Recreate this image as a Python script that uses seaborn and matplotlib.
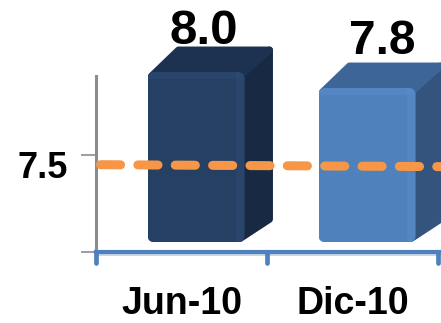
import numpy as np
import matplotlib
matplotlib.use("Agg")
import matplotlib.pyplot as plt
import seaborn as sns
from matplotlib.patches import Polygon, FancyBboxPatch, Rectangle
from matplotlib.transforms import IdentityTransform, ScaledTranslation

categories = ["Jun-10", "Dic-10"]
values = [8.0, 7.8]
reference_line = [7.45, 7.44]
bar_base = 7.05
front_colors = ["#264063", "#4f81bd"]
side_colors = ["#182a43", "#34547e"]
top_colors = ["#1d3250", "#3d6696"]
light_colors = ["#2f4d78", "#5a8ecb"]

sns.set_theme(style="white")
plt.rcParams["font.family"] = ["Liberation Sans", "DejaVu Sans"]
plt.rcParams["lines.scale_dashes"] = False

W, H = 441, 323
fig = plt.figure(figsize=(W / 100, H / 100), dpi=100)
ax = fig.add_axes([96 / W, (H - 252) / H, (W - 96) / W, 252 / H])

df_x, df_y = categories, values
sns.barplot(x=df_x, y=df_y, hue=df_x, palette=front_colors, dodge=False,
            legend=False, saturation=1, width=97 / 171, ax=ax, zorder=3)

# y scale keeps the reference's non-uniform spacing of ticks and bars
anchor_v = [7.0, 7.5, 7.8, 8.0, 8.9]
anchor_p = [0, 97, 164, 180, 252]
ax.set_yscale("function", functions=(
    lambda v: np.interp(v, anchor_v, anchor_p),
    lambda p: np.interp(p, anchor_p, anchor_v)))
ax.set_ylim(7.0, 8.9)
ax.set_xlim(-0.5, -0.5 + (W - 96) / 171)

shift = 14.5 / 171
depth_x, depth_y = 28, 26
bars = [p for p in ax.patches if isinstance(p, Rectangle)]
for i, (p, v) in enumerate(zip(bars, values)):
    p.set_x(p.get_x() + shift)
    p.set_y(bar_base)
    p.set_height(v - bar_base)
    p.set_linewidth(0)
    (x0, y0), (x1, y1) = ax.transData.transform(
        [(p.get_x(), bar_base), (p.get_x() + p.get_width(), v)])
    kw = dict(transform=IdentityTransform(), closed=True, joinstyle="round", lw=5, zorder=2)
    ax.add_patch(Polygon([(x1 - 4, y0 + 4), (x1 + depth_x - 3, y0 + depth_y - 3),
                          (x1 + depth_x - 3, y1 + depth_y - 4), (x1 - 4, y1 - 4)],
                         fc=side_colors[i], ec=side_colors[i], **kw))
    ax.add_patch(Polygon([(x0 + 4, y1 - 4), (x0 + depth_x + 3, y1 + depth_y - 4),
                          (x1 + depth_x - 3, y1 + depth_y - 4), (x1 - 4, y1 - 4)],
                         fc=top_colors[i], ec=top_colors[i], **kw))
    clip = FancyBboxPatch((x0, y0), x1 - x0, y1 - y0,
                          boxstyle="round,pad=0,rounding_size=7",
                          transform=IdentityTransform())
    p.set_clip_path(clip)
    for rect in [((x0, y1 - 7), x1 - x0, 7), ((x1 - 9, y0), 9, y1 - y0)]:
        s = Rectangle(*rect, transform=IdentityTransform(), fc=light_colors[i],
                      ec="none", alpha=0.4, zorder=3.1)
        ax.add_patch(s)
        s.set_clip_path(clip)
    ax.annotate(f"{v:.1f}", xy=(p.get_x() + p.get_width() / 2, v),
                xytext=(7.5 if i == 0 else 15.5, 40 if i == 0 else 46),
                textcoords="offset pixels", ha="center", va="center",
                fontsize=35.5 if i == 0 else 34.5, fontweight="bold", color="black", zorder=6)

ax.plot([-0.5 + 4.5 / 171, -0.5 + 345 / 171], reference_line, color="#f79646", lw=6.5,
        dashes=(14.5, 12.4), dash_capstyle="round", zorder=5)

for s in ["top", "right"]:
    ax.spines[s].set_visible(False)
ax.spines["left"].set_color("#8c8c8c")
ax.spines["left"].set_linewidth(2.2)
ax.spines["left"].set_bounds(7.0, 7.95)
ax.spines["bottom"].set_color("#4f81bd")
ax.spines["bottom"].set_linewidth(3)
ax.spines["bottom"].set_zorder(4)

ax.set_yticks([7.0, 7.5])
ax.set_yticklabels(["", "7.5"], fontsize=26, fontweight="bold", color="black")
ax.tick_params(axis="y", length=10.8, width=1.2, color="#8c8c8c", pad=9.5, left=True)
for lab in ax.get_yticklabels():
    lab.set_transform(lab.get_transform() + ScaledTranslation(0, -9 / 100, fig.dpi_scale_trans))

ax.set_xticks([0, 1])
ax.set_xticklabels(categories, fontsize=27, fontweight="bold", color="black")
ax.tick_params(axis="x", length=0, pad=24.5)
for bx in [-0.5, 0.5, 1.5]:
    ax.plot([bx, bx], [0, -11 / 252], transform=ax.get_xaxis_transform(), color="#4f81bd",
            lw=3.4, solid_capstyle="round", clip_on=False, zorder=4)
ax.plot([-0.5, 1.6], [-3 / 252, -3 / 252], transform=ax.get_xaxis_transform(),
        color="#c9d6e8", lw=1.5, clip_on=False, zorder=2)
ax.set_xlabel("")
ax.set_ylabel("")
ax.patch.set_alpha(0)

fig.savefig("out.png", dpi=100)
